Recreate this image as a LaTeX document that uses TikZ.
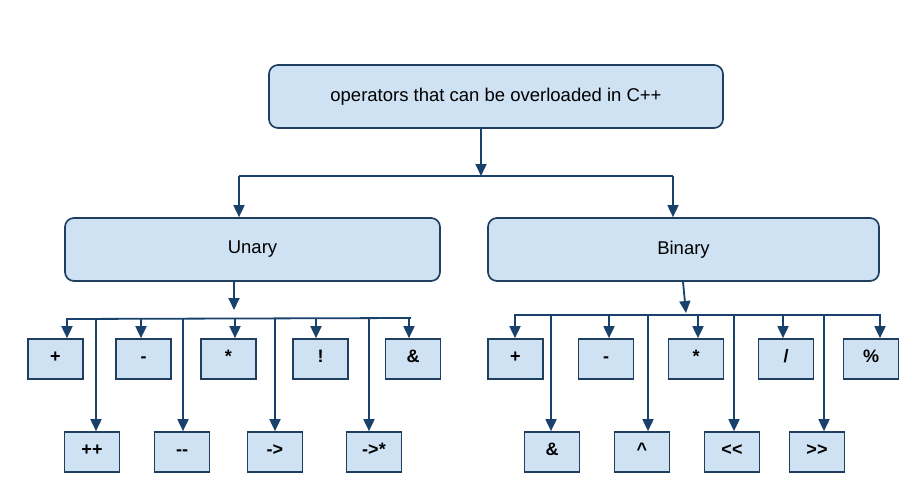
\documentclass[tikz,border=0pt]{standalone}
\usepackage{fontspec}
\setmainfont{Liberation Sans}
\usetikzlibrary{arrows.meta}
\definecolor{boxfill}{RGB}{207,226,243}
\definecolor{boxline}{RGB}{32,62,95}
\definecolor{conn}{RGB}{24,66,108}
\tikzset{
  basebox/.style={draw=boxline, fill=boxfill, line width=1.7pt, inner sep=0pt, text=black},
  bigbox/.style={basebox, rounded corners=9pt, minimum height=63pt,
    font=\fontsize{18.5}{22}\selectfont},
  opbox/.style={basebox, minimum width=55pt, minimum height=40pt,
    text height=0.72em, text depth=0pt,
    font=\fontsize{18}{21}\selectfont\bfseries},
  arr/.style={draw=conn, line width=1.8pt, -{Triangle[length=12pt,width=11pt]}},
  ln/.style={draw=conn, line width=1.8pt}
}
\begin{document}
\begin{tikzpicture}[x=1pt,y=-1pt]
\useasboundingbox (0,0) rectangle (919,495);
% big boxes
\node[bigbox, minimum width=454pt] (top) at (496,96.5) {operators that can be overloaded in C++};
\node[bigbox, minimum width=375pt] (unary) at (252.5,249.5) {Unary};
\node[bigbox, minimum width=391pt] (binary) at (683.5,249.5) {Binary};
% unary operators
\node[opbox] (uplus) at (55.5,359) {+};
\node[opbox] (uminus) at (143.5,359) {-};
\node[opbox] (ustar) at (228.5,359) {*};
\node[opbox] (unot) at (320.5,359) {!};
\node[opbox] (uamp) at (413,359) {\&};
\node[opbox] (uinc) at (92,452) {++};
\node[opbox] (udec) at (182,452) {\hbox{-}\hbox{-}};
\node[opbox] (uarrow) at (275,452) {->};
\node[opbox] (uarrowstar) at (374,452) {->*};
% binary operators
\node[opbox] (bplus) at (515.5,359) {+};
\node[opbox] (bminus) at (606,359) {-};
\node[opbox] (bstar) at (696,359) {*};
\node[opbox] (bdiv) at (786,359) {/};
\node[opbox] (bmod) at (871,359) {\%};
\node[opbox] (bamp) at (552,452) {\&};
\node[opbox] (bxor) at (642,452) {\textasciicircum};
\node[opbox] (bshl) at (732,452) {\hbox{<}\hbox{<}};
\node[opbox] (bshr) at (817,452) {\hbox{>}\hbox{>}};
% top level connectors
\coordinate (tdrop) at (481,176);
\coordinate (tl) at (239,176);
\coordinate (tr) at (673,176);
\draw[arr] (top.south -| tdrop) -- (tdrop);
\draw[ln] (tl) -- (tr);
\draw[arr] (tl) -- (unary.north -| tl);
\draw[arr] (tr) -- (binary.north -| tr);
% unary connectors
\coordinate (ud) at (234,310);
\draw[arr] (unary.south -| ud) -- (ud);
\coordinate (ubl) at (66,319);
\coordinate (ubr) at (411,318);
\draw[ln] (ubl) -- (ubr);
\foreach \x/\n in {67/uplus,141/uminus,235/ustar,316/unot,409/uamp,96/uinc,183/udec,275/uarrow,369/uarrowstar}{
  \coordinate (c\n) at (\x,318);
  \draw[arr] (c\n) -- (\n.north -| c\n);
}
% binary connectors
\coordinate (bd) at (686,313);
\coordinate (bs) at (683,0);
\draw[arr] (binary.south -| bs) -- (bd);
\coordinate (bbl) at (514,315);
\coordinate (bbr) at (881,315);
\draw[ln] (bbl) -- (bbr);
\foreach \x/\n in {515/bplus,609/bminus,698/bstar,783/bdiv,880/bmod,551/bamp,648/bxor,734/bshl,824/bshr}{
  \coordinate (c\n) at (\x,315);
  \draw[arr] (c\n) -- (\n.north -| c\n);
}
\end{tikzpicture}
\end{document}
